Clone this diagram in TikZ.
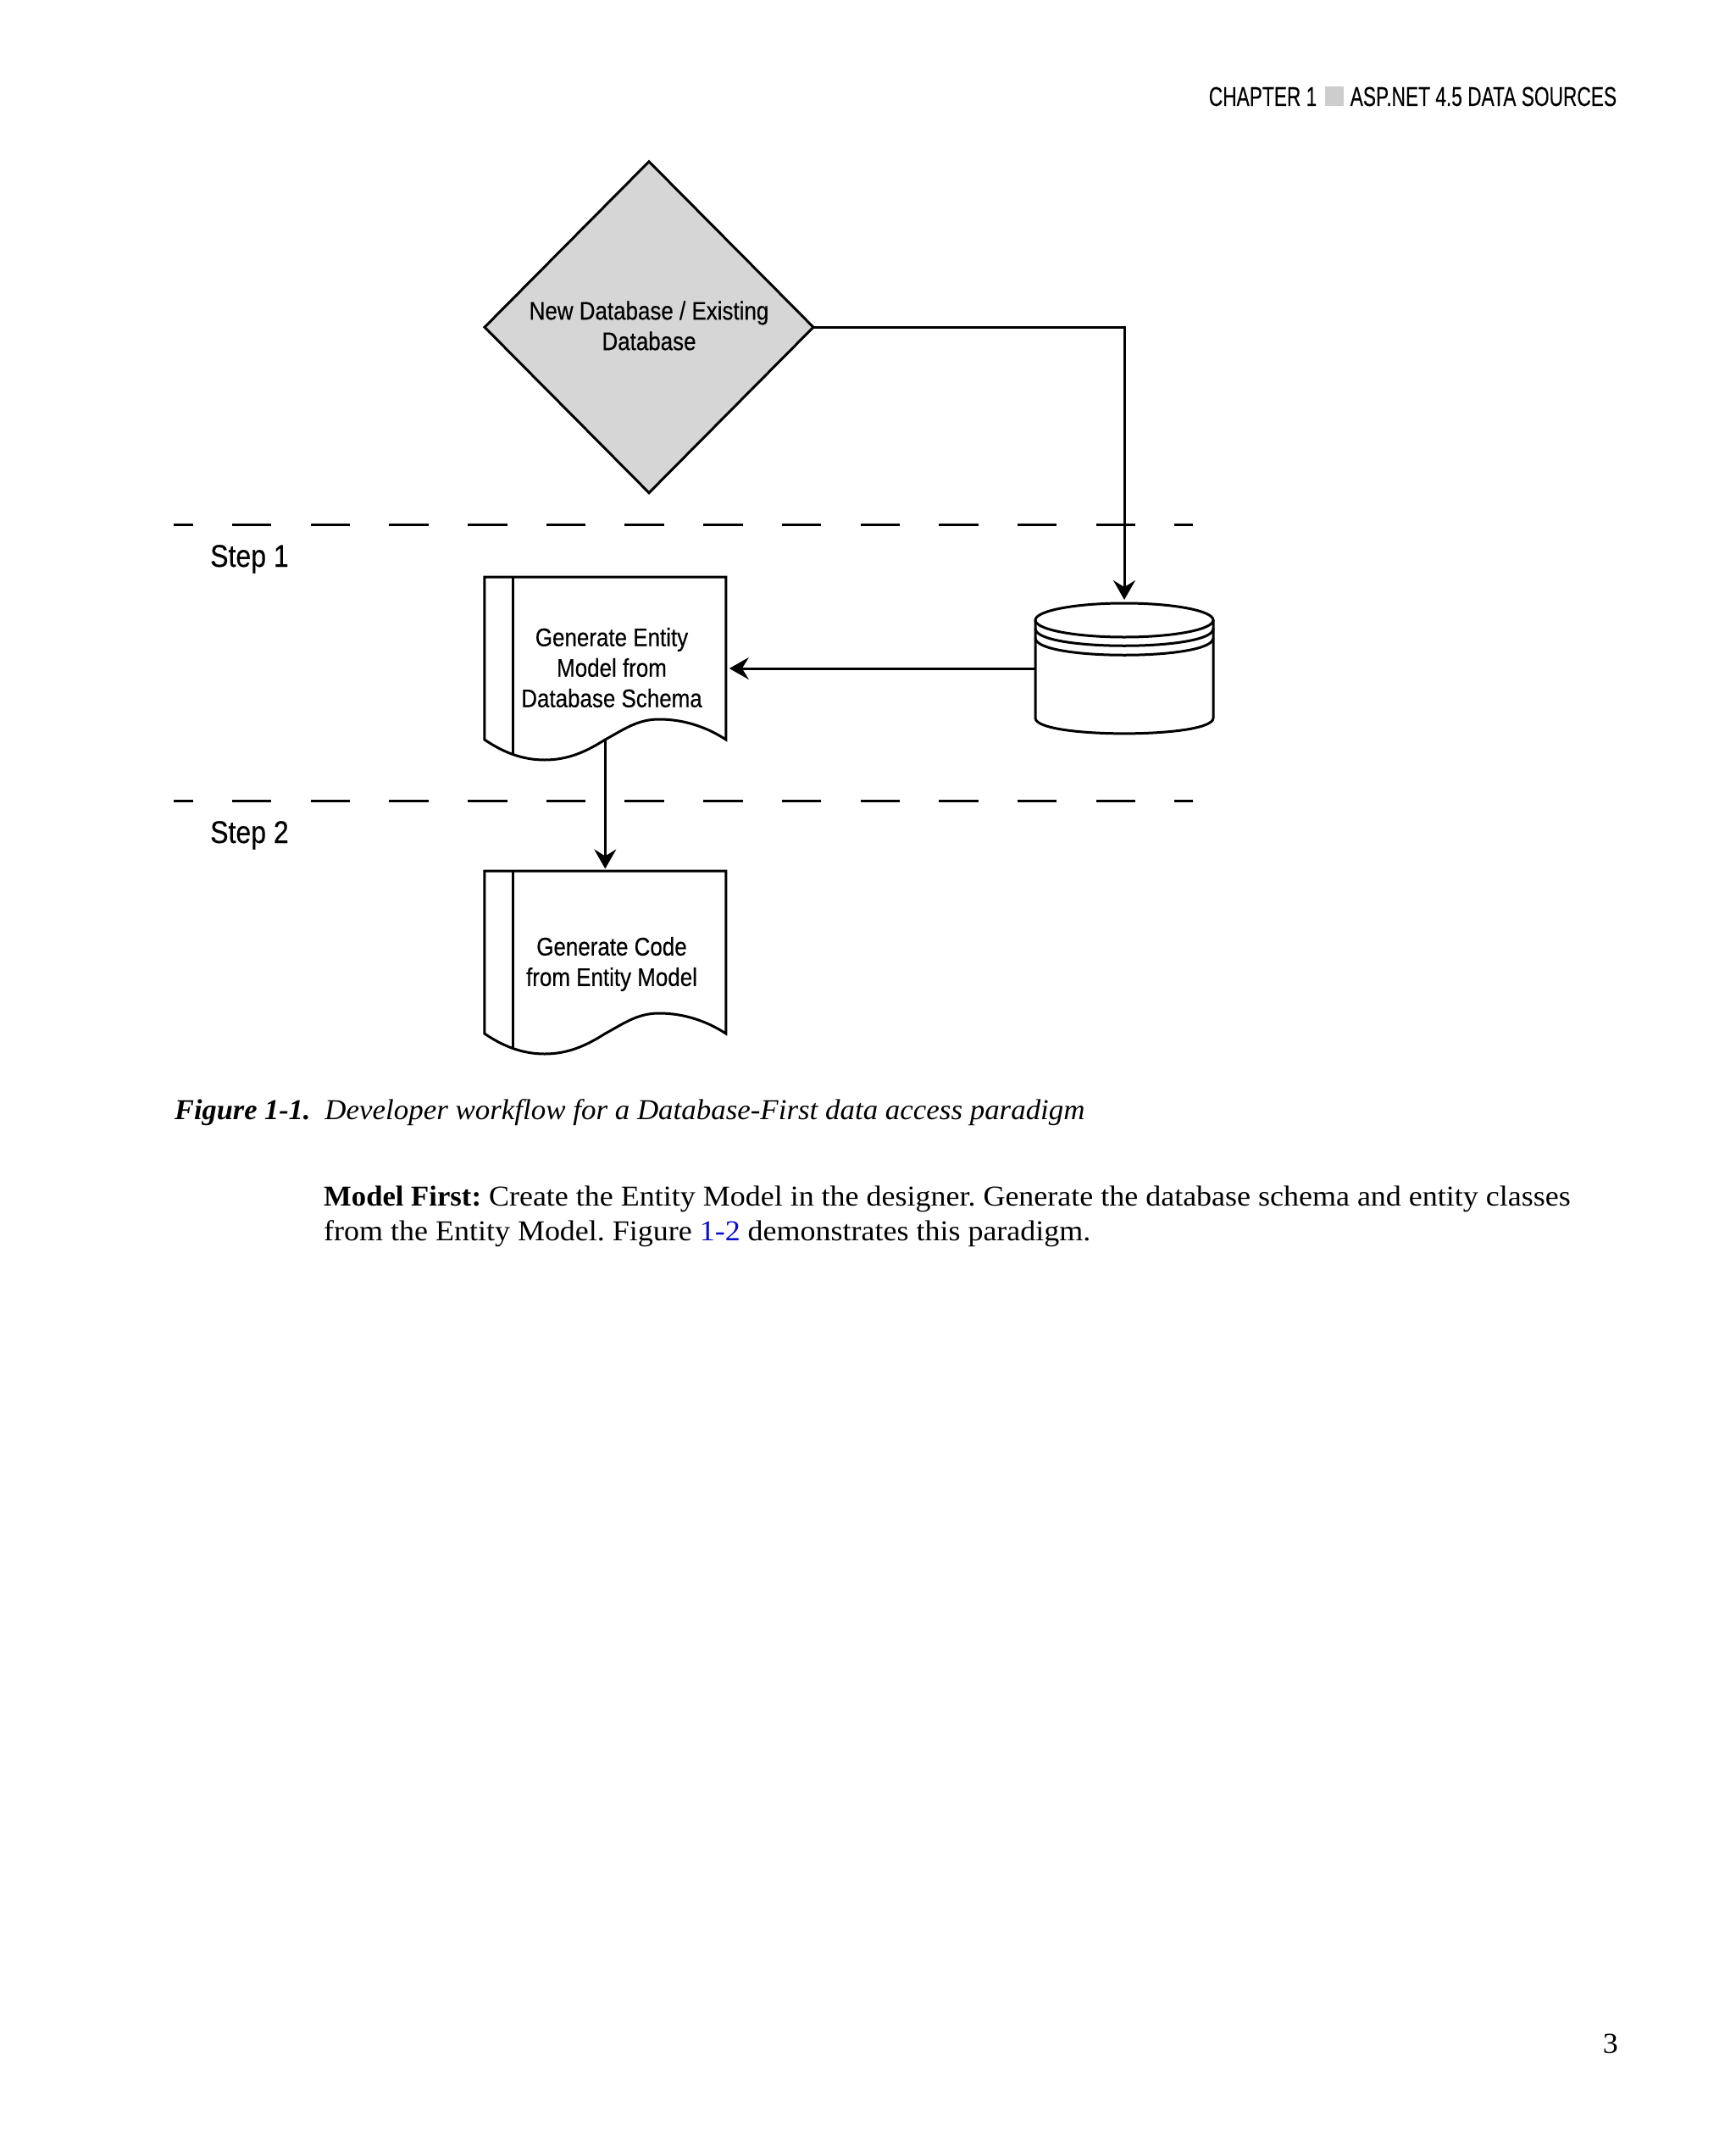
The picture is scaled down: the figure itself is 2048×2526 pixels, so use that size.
\documentclass[tikz,border=0pt]{standalone}
\usepackage{fontspec}
\setmainfont[FakeStretch=1.058,BoldFeatures={FakeStretch=1.02},ItalicFeatures={FakeStretch=1.027},BoldItalicFeatures={FakeStretch=1.01}]{Liberation Serif}
\setsansfont[FakeStretch=0.865,FakeBold=0.4]{Liberation Sans}
\newfontfamily\headfamily[FakeStretch=0.71,FakeBold=0.2]{Liberation Sans}
\usetikzlibrary{shapes.geometric,arrows.meta}
\definecolor{choicegray}{HTML}{D6D6D6}
\definecolor{markgray}{HTML}{CDCDCD}
\definecolor{linkblue}{RGB}{10,10,205}
\tikzset{
  lw/.style={line width=3pt},
  choice/.style={shape=diamond,draw,lw,fill=choicegray,aspect=1,inner sep=0pt,outer sep=0pt,
    minimum width=388pt,minimum height=391pt},
  sheet/.style={inner sep=0pt,outer sep=0pt,minimum width=285pt,minimum height=216pt},
  dbnode/.style={inner sep=0pt,outer sep=0pt,minimum width=210pt,minimum height=154pt},
  boxtext/.style={align=center,inner sep=0pt,font=\boxfont},
  steplabel/.style={anchor=base west,inner sep=0pt,font=\stepfont},
  headtext/.style={inner sep=0pt,font=\headfont},
  pagetext/.style={anchor=base west,inner sep=0pt,font=\pagefont},
  lane/.style={lw,dash pattern=on 46.5pt off 46.2pt,dash phase=23.8pt},
  flow/.style={lw,->,>={Stealth[length=23pt,width=26pt,inset=8pt]},shorten >=4pt},
}
\newcommand{\boxfont}{\sffamily\fontsize{30}{36}\selectfont}
\newcommand{\stepfont}{\sffamily\fontsize{37}{44}\selectfont}
\newcommand{\headfont}{\headfamily\fontsize{32}{38}\selectfont}
\newcommand{\pagefont}{\frenchspacing\fontsize{34}{41}\selectfont}
% outline of a sheet with a wavy foot, also gives the named point on the foot
\newcommand{\sheetoutline}[1]{%
  \begin{scope}[shift={(#1.north west)}]
    \draw[lw,line join=miter] (0,0) -- (285,0) -- (285,192)
      .. controls (262,177) and (235,168) .. (206,168)
      .. controls (180,168) and (163,181) .. (142.5,192)
      .. controls (122,205) and (100,216) .. (71,216)
      .. controls (45,216) and (22,207) .. (0,192) -- cycle;
    \draw[lw] (34,0) -- (34,209);
    \coordinate (#1out) at (142.5,192);
  \end{scope}}
% outline of the database drum
\newcommand{\drumoutline}[1]{%
  \begin{scope}[shift={(#1.center)}]
    \draw[lw] (0,-57) ellipse [x radius=105,y radius=20];
    \draw[lw] (-105,-57) -- (-105,58.5) .. controls (-105,83) and (105,83) .. (105,58.5) -- (105,-57);
    \draw[lw] (-105,-47) .. controls (-105,-20) and (105,-20) .. (105,-47);
    \draw[lw] (-105,-36) .. controls (-105,-9) and (105,-9) .. (105,-36);
  \end{scope}}
\begin{document}
\begin{tikzpicture}[x=1pt,y=-1pt]
  \useasboundingbox (0,0) rectangle (2048,2526);
  \node[headtext,anchor=base east] (chapter) at (1554.5,125) {CHAPTER 1};
  \node[fill=markgray,minimum width=22pt,minimum height=23pt,inner sep=0pt] (mark) at (1575,113.5) {};
  \node[headtext,anchor=base west] (title) at (1593.5,125) {ASP.NET 4.5 DATA SOURCES};
  \node[choice] (choose) at (766,386.2) {};
  \node[boxtext] (choosetxt) at (766,384.5) {New Database / Existing\\Database};
  \coordinate (lane1a) at (205,619);
  \coordinate (lane1b) at (1408,619);
  \coordinate (lane2a) at (205,945.3);
  \coordinate (lane2b) at (1408,945.3);
  \node[steplabel] (step1) at (248,669) {Step 1};
  \node[steplabel] (step2) at (248,995) {Step 2};
  \node[sheet] (gen1) at (714.3,789) {};
  \node[sheet] (gen2) at (714.3,1136) {};
  \node[dbnode] (db) at (1327,789) {};
  \sheetoutline{gen1}
  \sheetoutline{gen2}
  \drumoutline{db}
  \node[boxtext] (gen1txt) at (722,788) {Generate Entity\\Model from\\Database Schema};
  \node[boxtext] (gen2txt) at (722,1138) {Generate Code\\from Entity Model};
  \draw[lane] (lane1a) -- (lane1b);
  \draw[lane] (lane2a) -- (lane2b);
  \draw[flow] (choose.east) -| (db.north);
  \draw[flow] (db.west) -- (gen1.east);
  \draw[flow,shorten >=2.5pt] (gen1out) -- (gen2.north);
  \node[pagetext] (caption) at (206,1321) {\textbf{\textit{Figure 1-1.}}\hspace{17pt}\textit{Developer workflow for a Database-First data access paradigm}};
  \node[pagetext] (para1) at (382,1423) {\textbf{Model First:} Create the Entity Model in the designer. Generate the database schema and entity classes};
  \node[pagetext] (para2) at (382,1464.5) {from the Entity Model. Figure \textcolor{linkblue}{1-2} demonstrates this paradigm.};
  \node[pagetext,anchor=base east] (pageno) at (1910,2423) {3};
\end{tikzpicture}
\end{document}
